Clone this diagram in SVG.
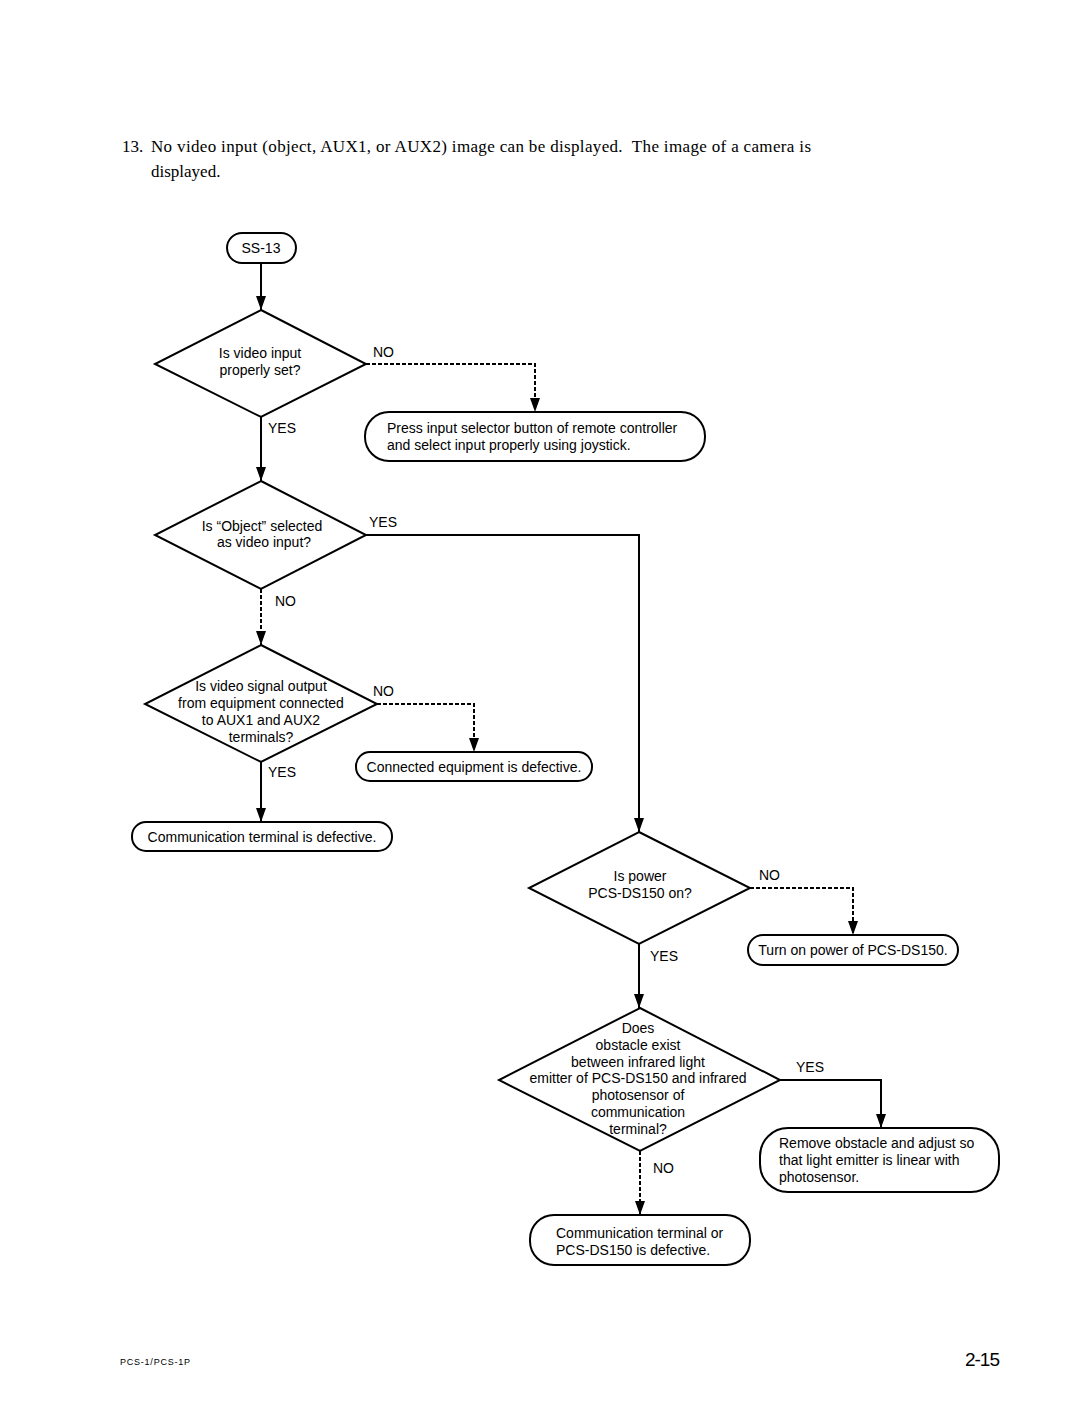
<svg xmlns="http://www.w3.org/2000/svg" width="1080" height="1407" viewBox="0 0 1080 1407">
<defs>
<marker id="ah" markerWidth="14" markerHeight="10" refX="14" refY="5" orient="auto" markerUnits="userSpaceOnUse" viewBox="0 0 14 10">
<path d="M0,0 L14,5 L0,10 Z" fill="#000"/>
</marker>
<style>
.t{font-family:"Liberation Sans",Arial,sans-serif;font-size:14px;fill:#000}
.c{text-anchor:middle}
.s{fill:#fff;stroke:#000;stroke-width:2}
.l{fill:none;stroke:#000;stroke-width:2}
.d{fill:none;stroke:#000;stroke-width:2;stroke-dasharray:4,2}
.h{font-family:"Liberation Serif","Times New Roman",serif;font-size:17px;fill:#000}
</style>
</defs>
<rect width="1080" height="1407" fill="#fff"/>
<text class="h" x="122" y="152">13.</text>
<text class="h" x="151" y="152" xml:space="preserve" textLength="660" lengthAdjust="spacing">No video input (object, AUX1, or AUX2) image can be displayed.  The image of a camera is</text>
<text class="h" x="151" y="177">displayed.</text>

<g id="connectors">
<path class="l" d="M261,263 V310" marker-end="url(#ah)"/>
<path class="d" d="M366,364 H535 V412" marker-end="url(#ah)"/>
<path class="l" d="M261,417 V481" marker-end="url(#ah)"/>
<path class="l" d="M366,535 H639 V832" marker-end="url(#ah)"/>
<path class="d" d="M261,589 V645" marker-end="url(#ah)"/>
<path class="d" d="M377,704 H474 V752" marker-end="url(#ah)"/>
<path class="l" d="M261,762 V822" marker-end="url(#ah)"/>
<path class="d" d="M750,888 H853 V935" marker-end="url(#ah)"/>
<path class="l" d="M639,944 V1008" marker-end="url(#ah)"/>
<path class="l" d="M780,1080 H881 V1128" marker-end="url(#ah)"/>
<path class="d" d="M640,1151 V1215" marker-end="url(#ah)"/>
<text class="t" x="373" y="357">NO</text>
<text class="t" x="268" y="433">YES</text>
<text class="t" x="369" y="527">YES</text>
<text class="t" x="275" y="606">NO</text>
<text class="t" x="373" y="696">NO</text>
<text class="t" x="268" y="777">YES</text>
<text class="t" x="759" y="880">NO</text>
<text class="t" x="650" y="961">YES</text>
<text class="t" x="796" y="1072">YES</text>
<text class="t" x="653" y="1173">NO</text>
</g>

<g id="ss13">
<rect class="s" x="227" y="233" width="69" height="30" rx="15"/>
<text class="t c" x="261" y="253">SS-13</text>
</g>
<g id="d1">
<polygon class="s" points="261,310 366,364 261,417 155,364"/>
<text class="t c" x="260" y="358">Is video input</text>
<text class="t c" x="260" y="375">properly set?</text>
</g>
<g id="b1">
<rect class="s" x="365" y="412" width="340" height="49" rx="24"/>
<text class="t" x="387" y="433">Press input selector button of remote controller</text>
<text class="t" x="387" y="450">and select input properly using joystick.</text>
</g>
<g id="d2">
<polygon class="s" points="261,481 366,535 261,589 155,535"/>
<text class="t c" x="262" y="531">Is “Object” selected</text>
<text class="t c" x="264" y="547">as video input?</text>
</g>
<g id="d3">
<polygon class="s" points="261,645 377,704 261,762 145,704"/>
<text class="t c" x="261" y="691">Is video signal output</text>
<text class="t c" x="261" y="708">from equipment connected</text>
<text class="t c" x="261" y="725">to AUX1 and AUX2</text>
<text class="t c" x="261" y="742">terminals?</text>
</g>
<g id="b2">
<rect class="s" x="356" y="752" width="236" height="29" rx="14"/>
<text class="t c" x="474" y="772">Connected equipment is defective.</text>
</g>
<g id="b3">
<rect class="s" x="132" y="822" width="260" height="29" rx="14"/>
<text class="t c" x="262" y="842">Communication terminal is defective.</text>
</g>
<g id="d4">
<polygon class="s" points="639,832 750,888 639,944 529,888"/>
<text class="t c" x="640" y="881">Is power</text>
<text class="t c" x="640" y="898">PCS-DS150 on?</text>
</g>
<g id="b4">
<rect class="s" x="748" y="935" width="210" height="30" rx="15"/>
<text class="t c" x="853" y="955">Turn on power of PCS-DS150.</text>
</g>
<g id="d5">
<polygon class="s" points="640,1008 780,1080 640,1151 499,1080"/>
<text class="t c" x="638" y="1033">Does</text>
<text class="t c" x="638" y="1050">obstacle exist</text>
<text class="t c" x="638" y="1067">between infrared light</text>
<text class="t c" x="638" y="1083">emitter of PCS-DS150 and infrared</text>
<text class="t c" x="638" y="1100">photosensor of</text>
<text class="t c" x="638" y="1117">communication</text>
<text class="t c" x="638" y="1134">terminal?</text>
</g>
<g id="b5">
<rect class="s" x="760" y="1128" width="239" height="64" rx="28"/>
<text class="t" x="779" y="1148">Remove obstacle and adjust so</text>
<text class="t" x="779" y="1165">that light emitter is linear with</text>
<text class="t" x="779" y="1182">photosensor.</text>
</g>
<g id="b6">
<rect class="s" x="530" y="1215" width="220" height="50" rx="24"/>
<text class="t" x="556" y="1238">Communication terminal or</text>
<text class="t" x="556" y="1255">PCS-DS150 is defective.</text>
</g>
<text x="120" y="1365" style="font-family:'Liberation Sans',Arial,sans-serif;font-size:9px" textLength="70">PCS-1/PCS-1P</text>
<text x="965" y="1366" style="font-family:'Liberation Sans',Arial,sans-serif;font-size:19px" textLength="35">2-15</text>
</svg>
